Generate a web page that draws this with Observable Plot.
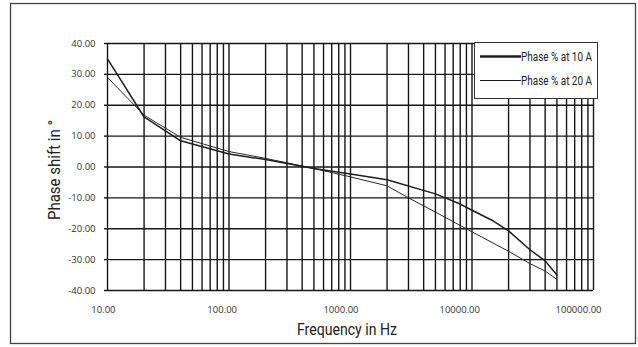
<!DOCTYPE html>
<html>
<head>
<meta charset="utf-8">
<script src="https://cdn.jsdelivr.net/npm/d3@7"></script>
<script src="https://cdn.jsdelivr.net/npm/@observablehq/plot@0.6"></script>
<style>
  html, body { margin: 0; padding: 0; background: #fff; }
  #chart { width: 638px; height: 347px; }
</style>
</head>
<body>
<div id="chart"></div>
<script>
// Data
const freqs10 = [10, 20, 40, 100, 200, 500, 1000, 2000, 5000, 8000, 10000, 15000, 20000, 30000, 40000, 50000];
const phase10 = [35.0, 16.2, 8.5, 4.2, 2.4, -0.5, -2.3, -4.1, -8.7, -12.0, -14.0, -17.5, -20.7, -26.8, -30.4, -35.0];
const freqs20 = [10, 20, 40, 100, 200, 500, 1000, 2000, 3000, 5000, 10000, 20000, 30000, 40000, 50000];
const phase20 = [29.0, 16.8, 9.6, 5.0, 2.8, -0.5, -3.2, -6.1, -10.0, -14.6, -21.0, -27.3, -31.3, -33.7, -36.4];
const seriesNames = ["Phase % at 10 A", "Phase % at 20 A"];
const xTickValues = [10, 100, 1000, 10000, 100000];
const yTickValues = [-40, -30, -20, -10, 0, 10, 20, 30, 40];
const xTitle = "Frequency in Hz";
const yTitle = "Phase shift in °";

const rows10 = freqs10.map((f, i) => ({f, v: phase10[i]}));
const rows20 = freqs20.map((f, i) => ({f, v: phase20[i]}));
const minorX = [];
for (let e = 1; e <= 4; e++) for (let m = 1; m <= 9; m++) minorX.push(m * 10 ** e);
minorX.push(100000);

const labelFont = "Roboto, sans-serif";

const plot = Plot.plot({
  width: 638,
  height: 347,
  marginLeft: 107,
  marginRight: 45,
  marginTop: 43,
  marginBottom: 57,
  style: {fontFamily: "'Open Sans', sans-serif", fontSize: "9.5px", color: "#222", background: "transparent"},
  x: {type: "log", domain: [10, 100000]},
  y: {domain: [-40, 40]},
  marks: [
    Plot.gridX(minorX, {stroke: "#161616", strokeOpacity: 1, strokeWidth: 1.4}),
    Plot.gridY(yTickValues, {stroke: "#161616", strokeOpacity: 1, strokeWidth: 1.4}),
    Plot.axisX(xTickValues, {tickSize: 0, tickPadding: 16, tickFormat: d => d.toFixed(2), textAnchor: "end", dx: 8, label: null, fill: "#333"}),
    Plot.axisY(yTickValues, {tickSize: 3, tickPadding: 9, tickFormat: d => d.toFixed(2), label: null, stroke: "#161616", strokeWidth: 1.4, fill: "#333"}),
    Plot.line(rows20, {x: "f", y: "v", stroke: "#2a2a2a", strokeWidth: 1.0}),
    Plot.line(rows10, {x: "f", y: "v", stroke: "#1e1e1e", strokeWidth: 1.5})
  ]
});

document.getElementById("chart").appendChild(plot);

const svg = d3.select(plot);
// Outer frame
svg.insert("rect", ":first-child")
  .attr("x", 10.5).attr("y", 3.5).attr("width", 625).attr("height", 340)
  .attr("fill", "#fff").attr("stroke", "#444").attr("stroke-width", 1.3);

// Axis titles
svg.append("text")
  .attr("x", 347).attr("y", 335)
  .attr("text-anchor", "middle")
  .attr("textLength", 100).attr("lengthAdjust", "spacingAndGlyphs")
  .style("font-family", labelFont).style("font-size", "16px").attr("fill", "#222")
  .text(xTitle);
svg.append("text")
  .attr("transform", "translate(60,170) rotate(-90)")
  .attr("text-anchor", "middle")
  .attr("textLength", 100).attr("lengthAdjust", "spacingAndGlyphs")
  .style("font-family", labelFont).style("font-size", "16px").attr("fill", "#222")
  .text(yTitle);

// Legend
const lg = svg.append("g");
lg.append("rect")
  .attr("x", 474.5).attr("y", 42.5).attr("width", 123).attr("height", 56)
  .attr("fill", "#fff").attr("stroke", "#333").attr("stroke-width", 1);
const widths = [2.4, 1.0];
seriesNames.forEach((name, i) => {
  const yy = 56.5 + i * 24;
  lg.append("line").attr("x1", 480).attr("x2", 521).attr("y1", yy).attr("y2", yy)
    .attr("stroke", "#1e1e1e").attr("stroke-width", widths[i]);
  lg.append("text").attr("x", 521).attr("y", yy).attr("dy", "0.35em")
    .attr("text-anchor", "start")
    .attr("textLength", 71).attr("lengthAdjust", "spacingAndGlyphs")
    .style("font-family", labelFont).style("font-size", "12.5px").attr("fill", "#222")
    .text(name);
});
</script>
</body>
</html>
